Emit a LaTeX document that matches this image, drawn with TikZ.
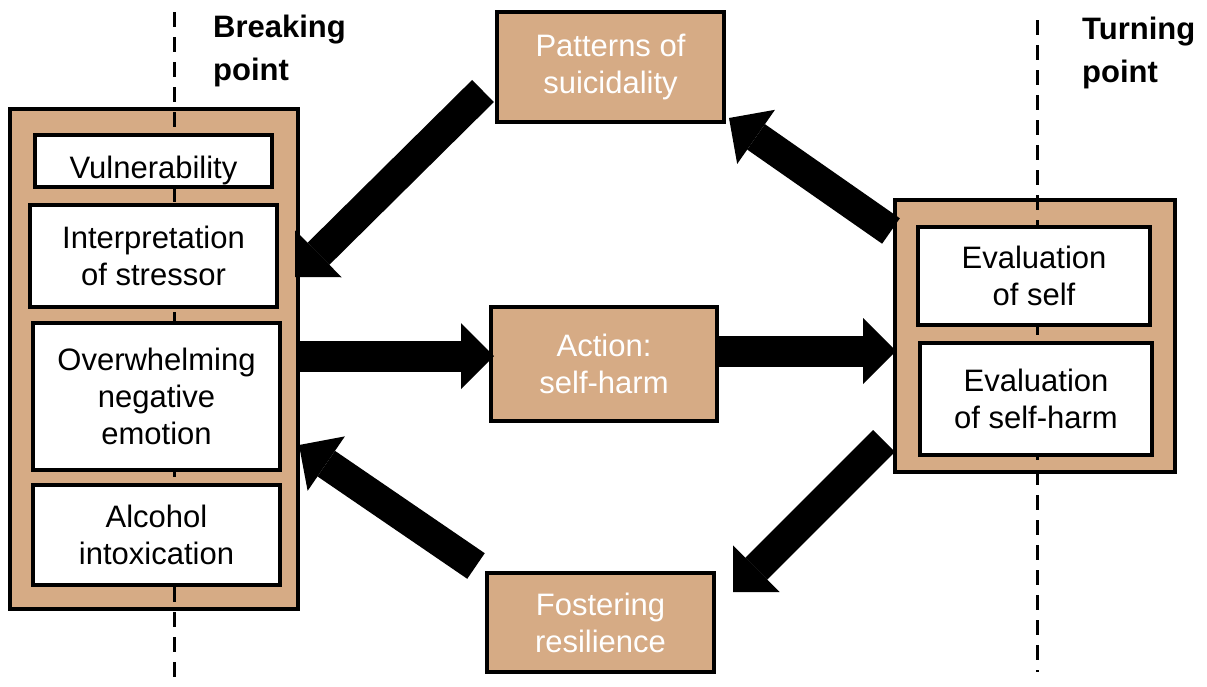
\documentclass[tikz,border=0pt]{standalone}
\usepackage{fontspec}
\setmainfont{Liberation Sans}
\usetikzlibrary{arrows.meta}
\definecolor{boxtan}{RGB}{214,171,133}

\begin{document}
\begin{tikzpicture}[
    x=1pt, y=-1pt,
    outerbox/.style={rectangle, draw=black, fill=boxtan, line width=4.5pt, inner sep=0pt, outer sep=0pt},
    innerbox/.style={rectangle, draw=black, fill=white, line width=4.5pt, inner sep=0pt, outer sep=0pt, align=center, font=\fontsize{31}{37}\selectfont},
    stagebox/.style={rectangle, draw=black, fill=boxtan, line width=4.5pt, inner sep=0pt, outer sep=0pt, align=center, text=white, font=\fontsize{31}{37}\selectfont},
    pointlabel/.style={anchor=north west, inner sep=0pt, align=left, font=\fontsize{31}{43}\selectfont\bfseries},
    cutline/.style={dash pattern=on 15pt off 10pt, line width=3pt},
    arrowstyle/.style={line width=31pt, -{Triangle[length=33pt, width=66pt, line width=0pt]}}
]
    \useasboundingbox (0,0) rectangle (1207,686);

    \node[outerbox, minimum width=288pt, minimum height=500pt] (brk) at (154,359) {};
    \node[outerbox, minimum width=280pt, minimum height=272pt] (trn) at (1035,336) {};

    \draw[cutline] (174,12) -- (174,686);
    \draw[cutline] (1037,20) -- (1037,672);

    \node[pointlabel] (brklbl) at (213,15) {Breaking\\point};
    \node[pointlabel] (trnlbl) at (1082,17) {Turning\\point};

    \node[innerbox, minimum width=237pt, minimum height=52pt, text height=34pt, text depth=0pt] (vul) at (153.5,161) {Vulnerability};
    \node[innerbox, minimum width=247pt, minimum height=102pt] (interp) at (153.5,256) {Interpretation\\of stressor};
    \node[innerbox, minimum width=247pt, minimum height=147pt] (overw) at (156.5,396.5) {Overwhelming\\negative\\emotion};
    \node[innerbox, minimum width=247pt, minimum height=100pt] (alc) at (156.5,535) {Alcohol\\intoxication};

    \node[innerbox, minimum width=232pt, minimum height=98pt] (evself) at (1034,276) {Evaluation\\of self};
    \node[innerbox, minimum width=232pt, minimum height=112pt] (evharm) at (1036,399) {Evaluation\\of self-harm};

    \node[stagebox, minimum width=227pt, minimum height=110pt] (patt) at (610.5,67) {Patterns of\\suicidality};
    \node[stagebox, minimum width=226pt, minimum height=114pt] (act) at (604,364) {Action:\\self-harm};
    \node[stagebox, minimum width=227pt, minimum height=99pt] (fost) at (600.5,622.5) {Fostering\\resilience};

    \draw[arrowstyle] ([xshift=-14pt,yshift=-24pt]patt.west) -- ([xshift=-3pt,yshift=82pt]brk.east);
    \draw[arrowstyle] ([xshift=-4pt,yshift=-31pt]trn.north west) -- ([xshift=5pt,yshift=4pt]patt.south east);
    \draw[arrowstyle] ([yshift=3pt]brk.east) -- ([xshift=3pt,yshift=8pt]act.west);
    \draw[arrowstyle] ([yshift=13pt]act.east) -- ([xshift=1pt,yshift=-15pt]trn.west);
    \draw[arrowstyle] ([xshift=-11pt,yshift=31pt]trn.south west) -- ([xshift=19pt,yshift=-19pt]fost.north east);
    \draw[arrowstyle] ([xshift=-11pt,yshift=7pt]fost.north west) -- ([xshift=1pt,yshift=-86pt]brk.east);
\end{tikzpicture}
\end{document}
